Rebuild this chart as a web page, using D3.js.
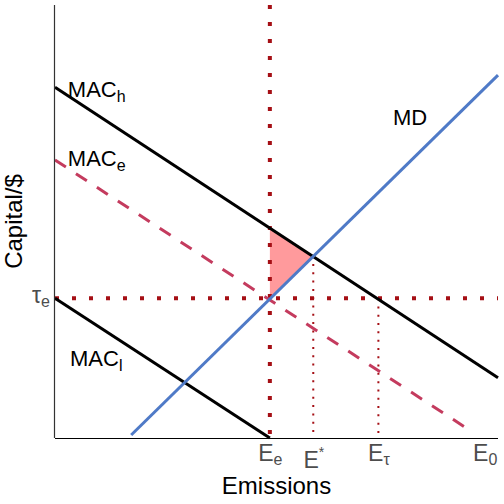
<!DOCTYPE html>
<html>
<head>
<meta charset="utf-8">
<script src="https://cdn.jsdelivr.net/npm/d3@7"></script>
<style>
  html, body { margin: 0; padding: 0; background: #fff; }
  text { font-family: "Liberation Sans", Arial, sans-serif; }
</style>
</head>
<body>
<svg id="chart" width="504" height="504"></svg>
<script>
// Abatement / damage curves, in plot units (x: emissions, y: capital/$)
const macH = [[0, 8.1], [10, 1.39]];
const macE = [[0, 6.42], [9.45, 0.12]];
const macL = [[0, 3.23], [4.85, 0]];
const md = [[1.72, 0.07], [10, 8.38]];

// key points
const tauE = 3.23;
const eE = 4.85;
const eStar = [5.83, 4.21];
const eTau = 7.3;
const triangle = [[4.85, 4.87], [5.83, 4.21], [4.85, 3.23]];

// tick labels: [value, main, sub, sup]
const xTicks = [[4.85, "E", "e", ""], [5.83, "E", "", "*"], [7.3, "E", "\u03C4", ""], [9.7, "E", "0", ""]];
const yTicks = [[3.23, "\u03C4", "e"]];

// curve labels: [x, y, main, sub]
const curveLabels = [[0.29, 7.88, "MAC", "h"], [0.29, 6.28, "MAC", "e"], [0.34, 1.66, "MAC", "l"], [7.63, 7.23, "MD", ""]];

const W = 504, H = 504;
const margin = { top: 5, right: 6, bottom: 66, left: 55 };
const svg = d3.select("#chart");

const x = d3.scaleLinear().domain([0, 10]).range([margin.left, W - margin.right]);
const y = d3.scaleLinear().domain([0, 10]).range([H - margin.bottom, margin.top]);
const line = d3.line().x(d => x(d[0])).y(d => y(d[1]));

const dark = "#a50f15";

// shaded welfare-loss triangle
svg.append("path")
  .attr("d", line(triangle) + "Z")
  .attr("fill", "#ff9a9c");

// reference dotted lines
svg.append("line")
  .attr("x1", x(eE)).attr("x2", x(eE)).attr("y1", y(10)).attr("y2", y(0))
  .attr("stroke", dark).attr("stroke-width", 4).attr("stroke-dasharray", "4,13");
svg.append("line")
  .attr("x1", x(0)).attr("x2", x(10)).attr("y1", y(tauE)).attr("y2", y(tauE))
  .attr("stroke", dark).attr("stroke-width", 4).attr("stroke-dasharray", "4,13");
svg.append("line")
  .attr("x1", x(eStar[0])).attr("x2", x(eStar[0])).attr("y1", y(eStar[1])).attr("y2", y(0))
  .attr("stroke", dark).attr("stroke-width", 2).attr("stroke-dasharray", "2,6.3");
svg.append("line")
  .attr("x1", x(eTau)).attr("x2", x(eTau)).attr("y1", y(tauE)).attr("y2", y(0))
  .attr("stroke", dark).attr("stroke-width", 2).attr("stroke-dasharray", "2,6.3");

// curves
svg.append("path").attr("d", line(macE)).attr("fill", "none")
  .attr("stroke", "#c43b5e").attr("stroke-width", 3).attr("stroke-dasharray", "13,12");
svg.append("path").attr("d", line(macL)).attr("fill", "none")
  .attr("stroke", "#000").attr("stroke-width", 3);
svg.append("path").attr("d", line(macH)).attr("fill", "none")
  .attr("stroke", "#000").attr("stroke-width", 3);
svg.append("path").attr("d", line(md)).attr("fill", "none")
  .attr("stroke", "#4f7ac7").attr("stroke-width", 3);

// axes
const xAxis = svg.append("g")
  .attr("transform", `translate(0,${y(0)})`)
  .call(d3.axisBottom(x).tickValues(xTicks.map(d => d[0])).tickSize(0).tickPadding(7).tickFormat(""));
const yAxis = svg.append("g")
  .attr("transform", `translate(${x(0)},0)`)
  .call(d3.axisLeft(y).tickValues(yTicks.map(d => d[0])).tickSize(0).tickPadding(5).tickFormat(""));
xAxis.select(".domain").attr("d", `M${x(0)},0.5H${W - 6}`).attr("stroke", "#000").attr("stroke-width", 1.2);
yAxis.select(".domain").attr("d", `M-0.5,${y(0)}V${y(10)}`).attr("stroke", "#333").attr("stroke-width", 1.2);

xAxis.selectAll(".tick text").data(xTicks).each(function (d) {
  const t = d3.select(this)
    .attr("font-size", 23).attr("fill", "#4d4d4d").attr("dy", d[3] ? 23 : 16);
  t.append("tspan").text(d[1]);
  if (d[2]) t.append("tspan").attr("font-size", 16).attr("dy", 4).text(d[2]);
  if (d[3]) t.append("tspan").attr("font-size", 14).attr("dy", -11).text(d[3]);
});
yAxis.selectAll(".tick text").data(yTicks).each(function (d) {
  const t = d3.select(this).attr("font-size", 23).attr("fill", "#4d4d4d").attr("dy", "0.2em");
  t.append("tspan").text(d[1]);
  t.append("tspan").attr("font-size", 16).attr("dy", 4).text(d[2]);
});

// curve labels
curveLabels.forEach(d => {
  const t = svg.append("text").attr("x", x(d[0])).attr("y", y(d[1]))
    .attr("font-size", 22).attr("fill", "#000");
  t.append("tspan").text(d[2]);
  if (d[3]) t.append("tspan").attr("font-size", 16).attr("dy", 5).text(d[3]);
});

// axis titles
svg.append("text")
  .attr("x", (x(0) + W - 6) / 2).attr("y", 494)
  .attr("text-anchor", "middle").attr("font-size", 24).text("Emissions");
svg.append("text")
  .attr("transform", `translate(22,${(y(0) + y(10)) / 2}) rotate(-90)`)
  .attr("text-anchor", "middle").attr("font-size", 24).text("Capital/$");
</script>
</body>
</html>
